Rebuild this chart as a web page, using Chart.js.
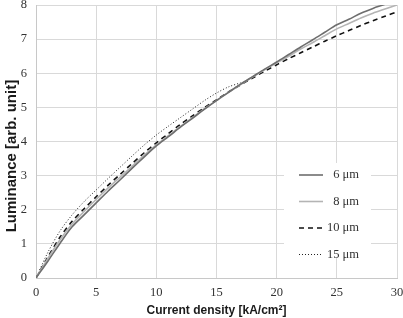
<!DOCTYPE html>
<html lang="en">
	<head>
		<meta charset="UTF-8" />
		<title>Luminance vs current density</title>
		<script src="https://cdn.jsdelivr.net/npm/chart.js@4.4.0/dist/chart.umd.min.js"></script>
		<style>
			html, body { margin: 0; padding: 0; background: #fff; }
			#wrap { width: 403px; height: 318px; }
		</style>
	</head>
	<body>
		<div id="wrap"><canvas id="lumChart" width="403" height="318"></canvas></div>

		<script>
			// current density [kA/cm2]
			const density = [0, 1, 2, 3, 4, 5, 6, 7, 8, 9, 10, 11, 12, 13, 14, 15, 16, 17, 18, 19, 20, 21, 22, 23, 24, 25, 26, 27, 28, 29, 30];
			// luminance per layer thickness
			const lum6 = [0, 0.5, 1.02, 1.5, 1.85, 2.2, 2.55, 2.88, 3.22, 3.55, 3.87, 4.14, 4.42, 4.68, 4.95, 5.2, 5.44, 5.68, 5.9, 6.12, 6.33, 6.55, 6.77, 6.98, 7.2, 7.42, 7.58, 7.76, 7.9, 8.02, 8.15];
			const lum8 = [0, 0.58, 1.12, 1.58, 1.95, 2.3, 2.64, 2.96, 3.28, 3.6, 3.9, 4.17, 4.44, 4.7, 4.96, 5.2, 5.44, 5.67, 5.89, 6.1, 6.3, 6.5, 6.71, 6.9, 7.1, 7.3, 7.46, 7.62, 7.76, 7.88, 8.0];
			const lum10 = [0, 0.62, 1.2, 1.66, 2.03, 2.38, 2.72, 3.04, 3.36, 3.67, 3.96, 4.23, 4.5, 4.75, 4.99, 5.22, 5.45, 5.66, 5.86, 6.06, 6.25, 6.43, 6.6, 6.77, 6.94, 7.1, 7.25, 7.4, 7.54, 7.67, 7.8];
			const lum15 = [0, 0.76, 1.38, 1.85, 2.24, 2.58, 2.92, 3.25, 3.58, 3.9, 4.19, 4.45, 4.7, 4.95, 5.2, 5.42, 5.6, 5.72];
			const seriesNames = ["6 μm", "8 μm", "10 μm", "15 μm"];

			const toXY = (ys) => ys.map((y, i) => ({ x: density[i], y: y }));

			// legend drawn inside the plot, on a white box
			const boxLegend = {
				id: "boxLegend",
				afterDatasetsDraw(chart) {
					const c = chart.ctx;
					c.save();
					c.fillStyle = "#fff";
					c.fillRect(284, 163, 87, 95);
					c.font = "12.5px 'Liberation Serif', serif";
					c.textAlign = "right";
					c.textBaseline = "middle";
					chart.data.datasets.forEach((ds, i) => {
						const y = 175 + i * 26.5;
						c.strokeStyle = ds.borderColor;
						c.lineWidth = ds.borderWidth;
						c.setLineDash(ds.borderDash || []);
						c.beginPath();
						c.moveTo(299, y);
						c.lineTo(323, y);
						c.stroke();
						c.fillStyle = "#333";
						c.fillText(ds.label, 359, y);
					});
					c.restore();
				},
			};

			const ctx = document.getElementById("lumChart").getContext("2d");
			const lumChart = new Chart(ctx, {
				type: "line",
				data: {
					datasets: [
						{ label: seriesNames[0], data: toXY(lum6), borderColor: "#6e6e6e", borderWidth: 1.6 },
						{ label: seriesNames[1], data: toXY(lum8), borderColor: "#b4b4b4", borderWidth: 1.6 },
						{ label: seriesNames[2], data: toXY(lum10), borderColor: "#111", borderWidth: 1.6, borderDash: [5, 4] },
						{ label: seriesNames[3], data: toXY(lum15), borderColor: "#222", borderWidth: 1, borderDash: [1, 2] },
					],
				},
				options: {
					responsive: false,
					animation: false,
					layout: { padding: { top: 5, right: 6, left: 0, bottom: 0 } },
					elements: {
						point: { radius: 0 },
						line: { tension: 0.3, fill: false },
					},
					plugins: {
						legend: { display: false },
						tooltip: { enabled: false },
					},
					scales: {
						x: {
							type: "linear",
							min: 0,
							max: 30,
							afterFit: (s) => { s.height = 40; s.paddingLeft = 0; s.paddingRight = 0; },
							grid: { color: "#d9d9d9", drawTicks: false },
							border: { color: "#c8c8c8" },
							ticks: {
								stepSize: 5,
								padding: 7,
								color: "#333",
								font: { family: "'Liberation Serif', serif", size: 12.5 },
							},
							title: {
								display: true,
								text: "Current density [kA/cm²]",
								color: "#1a1a1a",
								padding: { top: 0, bottom: 0 },
								font: { family: "'Liberation Sans', Arial, sans-serif", size: 12, weight: "bold" },
							},
						},
						y: {
							min: 0,
							max: 8,
							afterFit: (s) => { s.width = 36; s.paddingTop = 0; s.paddingBottom = 0; },
							grid: { color: "#d9d9d9", drawTicks: false },
							border: { color: "#c8c8c8" },
							ticks: {
								stepSize: 1,
								padding: 9,
								color: "#333",
								font: { family: "'Liberation Serif', serif", size: 12.5 },
							},
							title: {
								display: true,
								text: "Luminance [arb. unit]       ",
								color: "#1a1a1a",
								padding: { top: 3, bottom: 0 },
								font: { family: "'Liberation Sans', Arial, sans-serif", size: 15, weight: "bold" },
							},
						},
					},
				},
				plugins: [boxLegend],
			});
		</script>
	</body>
</html>
